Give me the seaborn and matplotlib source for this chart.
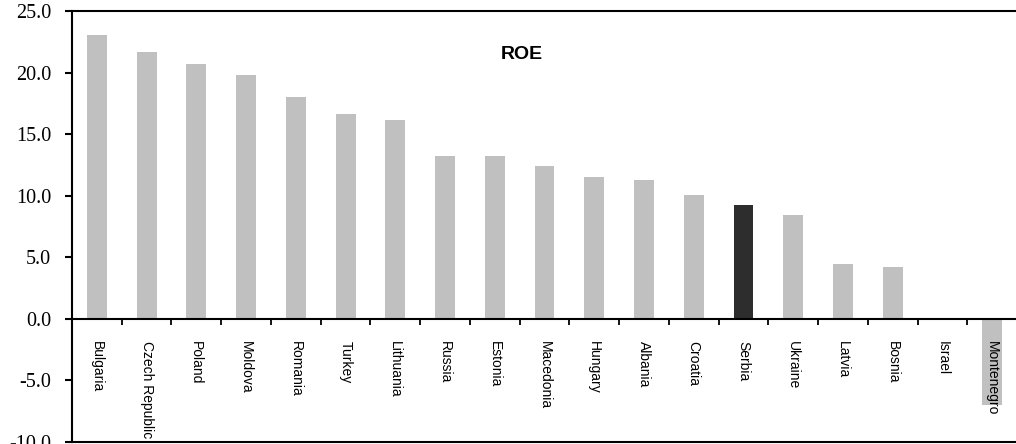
import matplotlib
matplotlib.use("Agg")
import matplotlib.pyplot as plt
import seaborn as sns
import pandas as pd
from matplotlib.ticker import FormatStrFormatter

# Return on equity by country (%)
countries = ["Bulgaria", "Czech Republic", "Poland", "Moldova", "Romania", "Turkey",
             "Lithuania", "Russia", "Estonia", "Macedonia", "Hungary", "Albania",
             "Croatia", "Serbia", "Ukraine", "Latvia", "Bosnia", "Israel", "Montenegro"]
roe = [23.05, 21.7, 20.7, 19.8, 18.0, 16.6, 16.15, 13.2, 13.2, 12.45, 11.55, 11.26,
       10.06, 9.25, 8.47, 4.46, 4.2, 0.0, -7.0]
highlight = "Serbia"
y_ticks = [-10, -5, 0, 5, 10, 15, 20, 25]

grey = "#c0c0c0"
dark = "#2d2d2d"

sns.set_style("ticks")
plt.rcParams["text.color"] = "black"
plt.rcParams["xtick.color"] = "black"
plt.rcParams["ytick.color"] = "black"

df = pd.DataFrame({"country": countries, "roe": roe})
palette = {c: (dark if c == highlight else grey) for c in countries}

fig = plt.figure(figsize=(10.16, 4.44), dpi=100)
ax = fig.add_axes([72 / 1016, 2 / 444, 945 / 1016, 431 / 444])

sns.barplot(data=df, x="country", y="roe", hue="country", palette=palette,
            order=countries, hue_order=countries, width=0.4, legend=False,
            saturation=1, linewidth=0, ax=ax)

ax.set_xlim(-0.5, len(countries) - 0.5)
ax.set_ylim(-10, 25)
ax.set_yticks(y_ticks)
ax.yaxis.set_major_formatter(FormatStrFormatter("%.1f"))
ax.set_xlabel("")
ax.set_ylabel("")
ax.tick_params(axis="x", length=0, labelbottom=False)
ax.tick_params(axis="y", length=5, width=1.5, direction="out", pad=10,
               labelsize=14.5, colors="black")
for lab in ax.get_yticklabels():
    lab.set_fontfamily(["Liberation Serif", "DejaVu Serif"])

for side in ["left", "top", "bottom"]:
    ax.spines[side].set_linewidth(1.5)
    ax.spines[side].set_color("black")
ax.spines["right"].set_visible(False)

# Category axis running along the zero line, drawn above the bars
zero_frac = (0 - (-10)) / (25 - (-10))
sec = ax.secondary_xaxis(zero_frac)
sec.set_zorder(5)
sec.spines["bottom"].set_linewidth(1.5)
sec.spines["bottom"].set_color("black")
positions = list(range(len(countries)))
sec.set_xticks(positions, labels=countries)
sec.set_xticks([p + 0.5 for p in positions[:-1]], minor=True)
sec.tick_params(which="major", length=0, pad=16, labelsize=10, labelrotation=-90,
                colors="black")
sec.tick_params(which="minor", length=4, width=1.3, direction="out", colors="black")
for lab in sec.get_xticklabels():
    lab.set_fontfamily(["Liberation Sans", "DejaVu Sans"])
    lab.set_color("black")

ax.text(0.476, 0.898, "ROE", transform=ax.transAxes, ha="center", va="center",
        fontsize=14, fontweight="bold", color="black",
        family=["Liberation Sans", "DejaVu Sans"])

fig.savefig("out.png", dpi=100)
